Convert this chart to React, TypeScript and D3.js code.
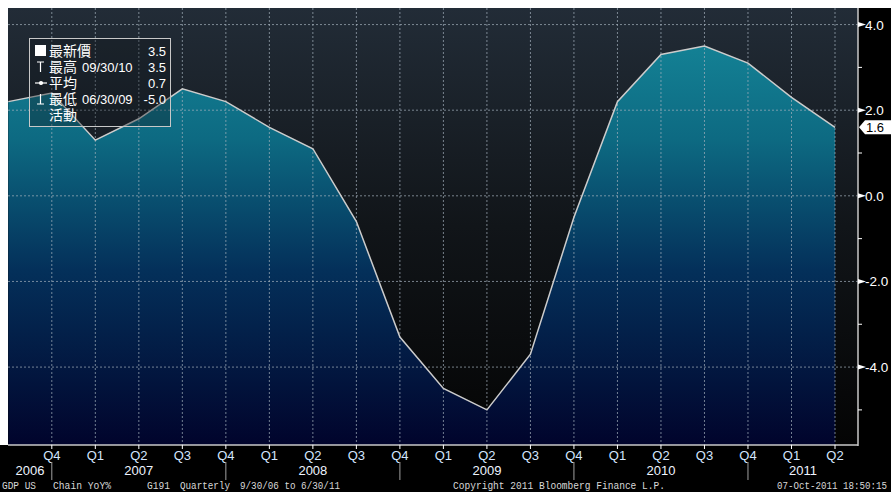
import React from 'react'
import { scaleLinear, area, line, range } from 'd3'

// GDP US Chain YoY%, quarterly 9/30/06 .. 6/30/11
const quarters = ['Q3', 'Q4', 'Q1', 'Q2', 'Q3', 'Q4', 'Q1', 'Q2', 'Q3', 'Q4', 'Q1', 'Q2', 'Q3', 'Q4', 'Q1', 'Q2', 'Q3', 'Q4', 'Q1', 'Q2']
const years = [2006, 2006, 2007, 2007, 2007, 2007, 2008, 2008, 2008, 2008, 2009, 2009, 2009, 2009, 2010, 2010, 2010, 2010, 2011, 2011]
const gdpYoY = [2.2, 2.4, 1.3, 1.8, 2.5, 2.2, 1.6, 1.1, -0.6, -3.3, -4.5, -5.0, -3.7, -0.5, 2.2, 3.3, 3.5, 3.1, 2.3, 1.6]
const yTicks = [4, 2, 0, -2, -4]
const yMinor = [3, 1, -1, -3, -5]

const legendRows = [
  { icon: 'square', label: '最新價', date: '', value: '3.5' },
  { icon: 'high', label: '最高', date: '09/30/10', value: '3.5' },
  { icon: 'avg', label: '平均', date: '', value: '0.7' },
  { icon: 'low', label: '最低', date: '06/30/09', value: '-5.0' },
  { icon: '', label: '活動', date: '', value: '' },
]

// footer pieces: text, x start, width
const footer: [string, number, number][] = [
  ['GDP US', 2, 34],
  ['Chain YoY%', 53, 58],
  ['G191', 147, 23],
  ['Quarterly', 180, 50],
  ['9/30/06 to 6/30/11', 240, 100],
  ['Copyright 2011 Bloomberg Finance L.P.', 453, 212],
  ['07-Oct-2011 18:50:15', 777, 110],
]

const W = 891
const H = 492
const left = 8
const top = 8
const right = 858
const bottom = 445

const App = () => {
  const x = scaleLinear().domain([0, quarters.length - 1]).range([8.3, 835])
  const y = scaleLinear().domain([-5.82, 4.387]).range([bottom, top])

  const areaPath = area<number>()
    .x((d, i) => x(i))
    .y0(bottom)
    .y1(d => y(d))(gdpYoY)
  const linePath = line<number>()
    .x((d, i) => x(i))
    .y(d => y(d))(gdpYoY)

  // year separators sit at each Q4
  const sepIdx = quarters.map((q, i) => (q === 'Q4' ? i : -1)).filter(i => i >= 0)
  const bounds = [left, ...sepIdx.map(i => x(i)), right]
  const yearList = Array.from(new Set(years))

  const last = gdpYoY[gdpYoY.length - 1]
  const ly = y(last)
  const axisFont = '"Liberation Sans", Arial, sans-serif'
  const monoFont = '"Liberation Mono", "DejaVu Sans Mono", monospace'
  const gridColor = '#a4b0bc'

  return (
    <svg width={W} height={H} style={{ position: 'absolute', left: 0, top: 0 }}>
      <defs>
        <linearGradient id="bg" gradientUnits="userSpaceOnUse" x1="0" y1={top} x2="0" y2={bottom}>
          <stop offset="0" stopColor="#222c37" />
          <stop offset="0.5" stopColor="#111519" />
          <stop offset="1" stopColor="#040404" />
        </linearGradient>
        <linearGradient id="fill" gradientUnits="userSpaceOnUse" x1="0" y1={top} x2="0" y2={bottom}>
          <stop offset="0" stopColor="#168a9c" />
          <stop offset="0.3" stopColor="#0d6a82" />
          <stop offset="0.6" stopColor="#04305a" />
          <stop offset="1" stopColor="#01042c" />
        </linearGradient>
      </defs>
      <rect x={0} y={0} width={W} height={H} fill="#fff" />
      <rect x={left} y={top} width={W - left} height={H - top} fill="#000" />
      <rect x={0} y={bottom} width={left} height={H - bottom} fill="#000" />
      <rect x={left} y={top} width={right - left} height={bottom - top} fill="url(#bg)" />

      <path d={areaPath || ''} fill="url(#fill)" />

      {/* grid */}
      {yTicks.map(t => (
        <line key={'h' + t} x1={left} x2={right} y1={y(t)} y2={y(t)} stroke={gridColor} strokeOpacity={0.7} strokeDasharray="2,2" />
      ))}
      {range(1, quarters.length).map(i => (
        <line key={'v' + i} x1={x(i)} x2={x(i)} y1={top} y2={bottom} stroke={gridColor} strokeOpacity={0.7} strokeDasharray="2,2" />
      ))}

      <path d={linePath || ''} fill="none" stroke="#cccccc" strokeWidth={1.5} />

      {/* legend */}
      <g>
        <rect x={29.5} y={38.5} width={141} height={88} fill="rgba(18,22,28,0.35)" stroke="#c8c8c8" />
        {legendRows.map((r, i) => {
          const cy = 51 + i * 16
          return (
            <g key={r.label} fill="#fff" fontFamily='"Noto Sans CJK TC", "Noto Sans", sans-serif' fontSize={14}>
              {r.icon === 'square' && <rect x={35} y={cy - 6} width={11} height={11} fill="#fff" />}
              {r.icon === 'high' && (
                <path d={`M37,${cy - 5}H44M40.5,${cy - 5}V${cy + 5}`} stroke="#fff" strokeWidth={1.2} fill="none" />
              )}
              {r.icon === 'avg' && (
                <g stroke="#fff" strokeWidth={1.2} fill="none">
                  <path d={`M35,${cy}H47`} />
                  <circle cx={41} cy={cy} r={1.5} fill="#fff" />
                </g>
              )}
              {r.icon === 'low' && (
                <path d={`M37,${cy + 5}H44M40.5,${cy - 5}V${cy + 5}`} stroke="#fff" strokeWidth={1.2} fill="none" />
              )}
              <text x={49} y={cy + 5}>{r.label}</text>
              {r.date && <text x={82} y={cy + 5} fontFamily={axisFont} fontSize={13}>{r.date}</text>}
              {r.value && <text x={166} y={cy + 5} textAnchor="end" fontFamily={axisFont} fontSize={13}>{r.value}</text>}
            </g>
          )
        })}
      </g>

      {/* axes lines */}
      <line x1={right} x2={right} y1={top} y2={bottom + 1} stroke="#c8c8c8" strokeWidth={1.5} />
      <line x1={left} x2={right} y1={bottom} y2={bottom} stroke="#c8c8c8" strokeWidth={1.5} />

      {/* right axis */}
      {yMinor.map(t => (
        <line key={'m' + t} x1={right} x2={right + 4} y1={y(t)} y2={y(t)} stroke="#fff" />
      ))}
      {yTicks.map(t => (
        <g key={'t' + t}>
          <path d={`M${right},${y(t) - 2.5}L${right + 8},${y(t)}L${right},${y(t) + 2.5}Z`} fill="#fff" />
          <text x={865} y={y(t) + 5} fill="#fff" fontFamily={axisFont} fontSize={13.5}>
            {t.toFixed(1)}
          </text>
        </g>
      ))}
      <path d={`M${right + 1},${ly}L${right + 7},${ly - 7}H${W}V${ly + 7}H${right + 7}Z`} fill="#fff" />
      <text x={866} y={ly + 5} fill="#000" fontFamily={axisFont} fontSize={13}>{last.toFixed(1)}</text>

      {/* bottom axis */}
      {range(1, quarters.length).map(i => (
        <g key={'q' + i}>
          <line x1={x(i)} x2={x(i)} y1={bottom} y2={bottom + 4} stroke="#fff" />
          <text x={x(i)} y={460} textAnchor="middle" fill="#d4e6ff" fontFamily={axisFont} fontSize={13}>
            {quarters[i]}
          </text>
        </g>
      ))}
      {sepIdx.map(i => (
        <line key={'s' + i} x1={x(i)} x2={x(i)} y1={462} y2={480} stroke="#a0a0a0" />
      ))}
      {yearList.map((yr, i) => (
        <text key={yr} x={(bounds[i] + bounds[i + 1]) / 2} y={475} textAnchor="middle" fill="#eef4ff" fontFamily={axisFont} fontSize={13}>
          {yr}
        </text>
      ))}

      {/* footer */}
      <g fill="#d8d8d8" fontFamily={monoFont} fontSize={10.5}>
        {footer.map(([t, fx, fw]) => (
          <text key={t} x={fx} y={489} textLength={fw} lengthAdjust="spacingAndGlyphs">{t}</text>
        ))}
      </g>
    </svg>
  )
}

export default App
